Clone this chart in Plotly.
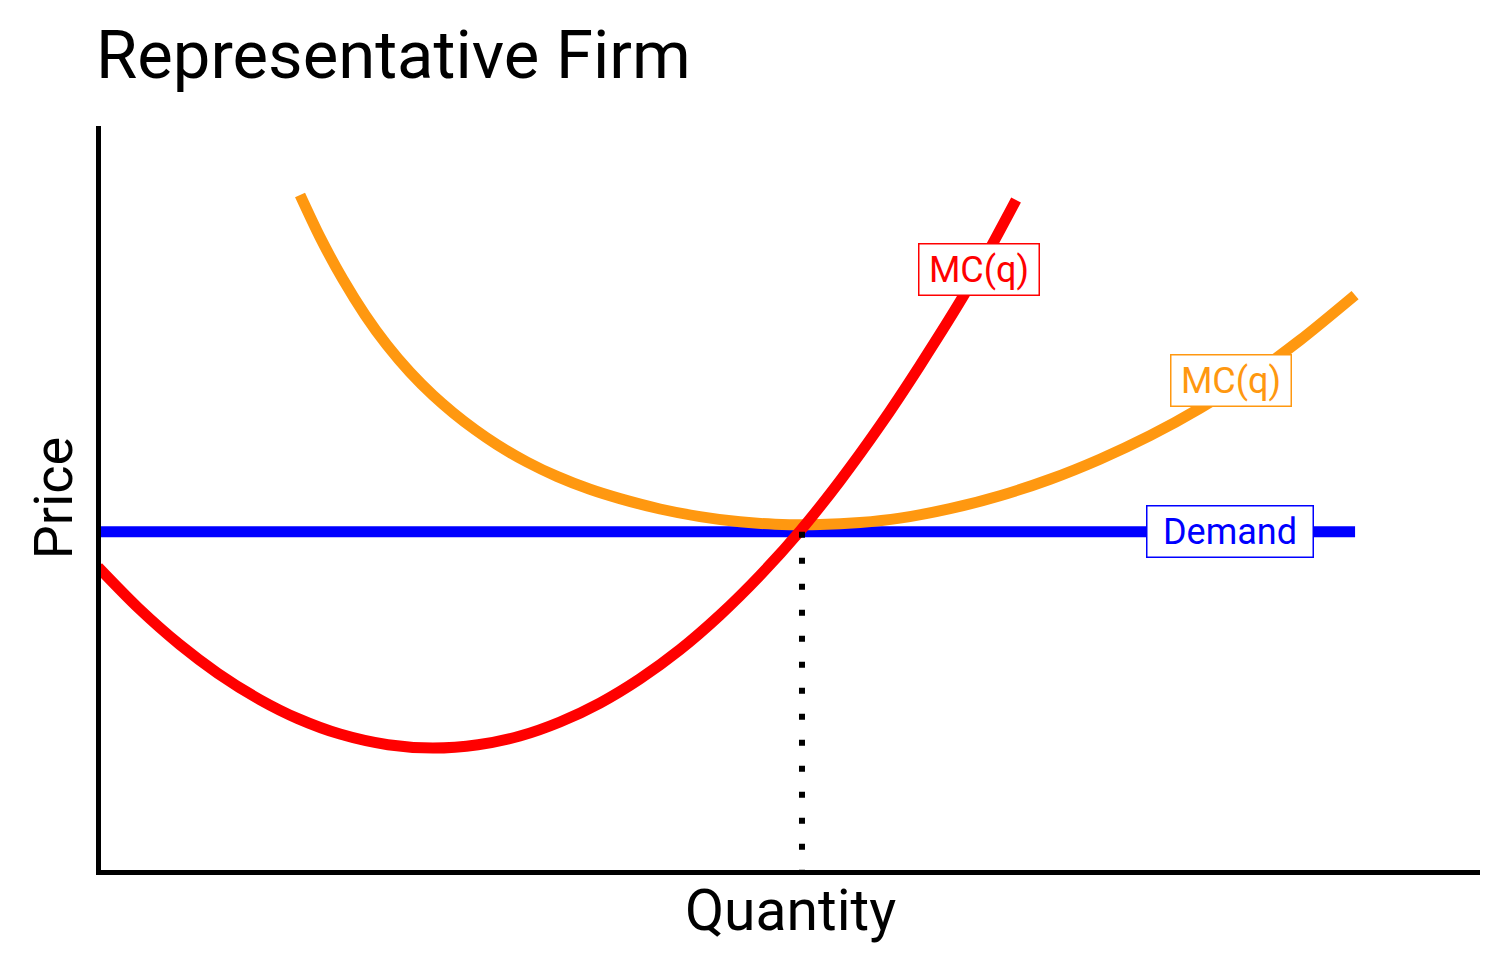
import plotly.graph_objects as go

# ---- data ----
mc_q = [0.0, 0.289, 0.593, 0.868, 1.172, 1.447, 1.751, 2.098, 2.424, 2.750, 3.053, 3.343,
        3.632, 3.921, 4.211, 4.500, 4.790, 5.080, 5.369, 5.658, 5.948, 6.295, 6.643]
mc_p = [4.088, 3.544, 3.046, 2.662, 2.310, 2.056, 1.849, 1.706, 1.662, 1.706, 1.823, 2.011,
        2.265, 2.589, 2.981, 3.444, 3.975, 4.571, 5.244, 5.983, 6.791, 7.824, 9.008]

ac_q = [1.462, 1.606, 1.773, 1.932, 2.091, 2.258, 2.424, 2.569, 2.728, 2.887, 3.104, 3.321,
        3.560, 3.777, 4.067, 4.356, 4.645, 4.899, 5.224, 5.514, 5.803, 6.165, 6.527, 6.889,
        7.250, 7.612, 7.974, 8.336, 8.698, 9.096]
ac_p = [9.075, 8.512, 7.941, 7.469, 7.062, 6.698, 6.390, 6.157, 5.930, 5.729, 5.496, 5.303,
        5.130, 5.005, 4.866, 4.764, 4.694, 4.662, 4.657, 4.684, 4.743, 4.870, 5.044, 5.265,
        5.534, 5.849, 6.217, 6.639, 7.129, 7.733]

demand_q = [0.0, 9.096]
demand_p = [4.56, 4.56]

q_star = 5.094
p_star = 4.56

labels = ["MC(q)", "MC(q)", "Demand"]
label_q = [6.375, 8.198, 8.191]
label_p = [8.083, 6.595, 4.558]

RED = "#FF0000"
ORANGE = "#FF9810"
BLUE = "#0000FF"
FONT = "Roboto"

fig = go.Figure()
fig.add_trace(go.Scatter(x=demand_q, y=demand_p, mode="lines",
                         line=dict(color=BLUE, width=11), showlegend=False, hoverinfo="skip"))
fig.add_trace(go.Scatter(x=ac_q, y=ac_p, mode="lines",
                         line=dict(color=ORANGE, width=11, shape="spline", smoothing=0.8),
                         showlegend=False, hoverinfo="skip"))
fig.add_trace(go.Scatter(x=mc_q, y=mc_p, mode="lines",
                         line=dict(color=RED, width=11, shape="spline", smoothing=0.8),
                         showlegend=False, hoverinfo="skip"))
fig.add_trace(go.Scatter(x=[q_star, q_star], y=[p_star, 0.027], mode="lines",
                         line=dict(color="black", width=6, dash="6px,20px"),
                         showlegend=False, hoverinfo="skip"))

colors = [RED, ORANGE, BLUE]
widths = [115, 115, 161]
for t, x, y, c, w in zip(labels, label_q, label_p, colors, widths):
    fig.add_annotation(x=x, y=y, text=t, showarrow=False,
                       font=dict(family=FONT, size=36, color=c),
                       bgcolor="white", bordercolor=c, borderwidth=1.5,
                       borderpad=2, width=w, height=46)

W, H = 1496, 956
fig.update_layout(
    width=W, height=H,
    paper_bgcolor="white", plot_bgcolor="white",
    margin=dict(l=93, r=24, t=118, b=94, autoexpand=False),
    title=dict(text="Representative Firm", x=88/W, xref="container", xanchor="left",
               y=1 - 47/H, yref="container", yanchor="middle",
               font=dict(family=FONT, size=67, color="black")),
    font=dict(family=FONT, color="black"),
)
fig.update_xaxes(range=[0.0217, 10.0], showgrid=False, zeroline=False, showticklabels=False,
                 ticks="", showline=True, linecolor="black", linewidth=5, automargin=False,
                 title=dict(text="Quantity", font=dict(family=FONT, size=57, color="black"), standoff=18))
fig.update_yaxes(range=[0.027, 10.0], showgrid=False, zeroline=False, showticklabels=False,
                 ticks="", showline=True, linecolor="black", linewidth=5, automargin=False,
                 title=dict(text="Price", font=dict(family=FONT, size=54, color="black"), standoff=8))

fig.write_html("out.html")
